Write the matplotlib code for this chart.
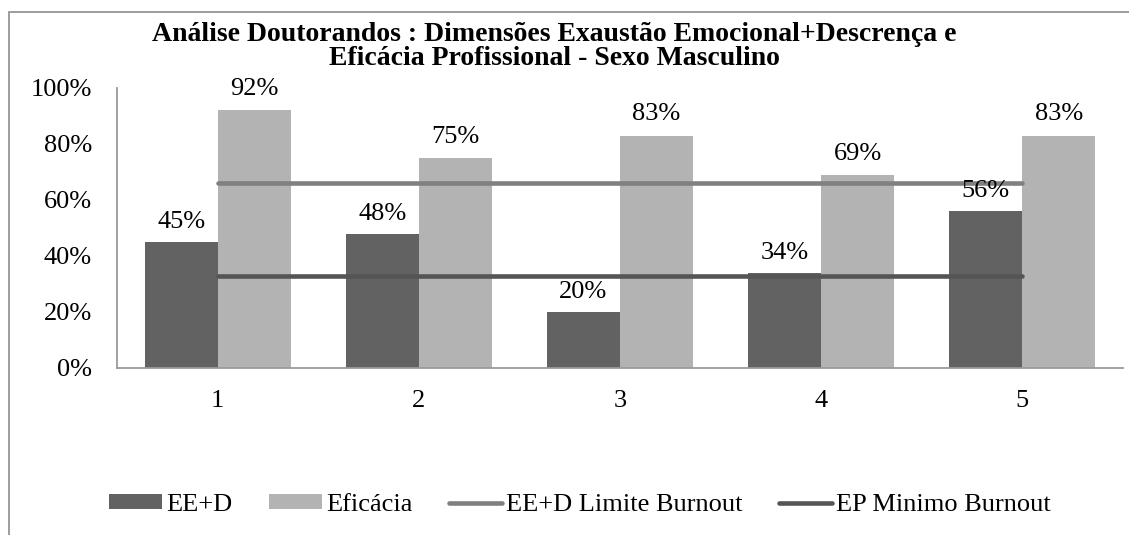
import numpy as np
import matplotlib.pyplot as plt
import matplotlib.patches as mpatches

# chart data
categories = ["1", "2", "3", "4", "5"]
ee_d = [45, 48, 20, 34, 56]
eficacia = [92, 75, 83, 69, 83]
ee_d_limite = [66, 66, 66, 66, 66]
ep_minimo = [33, 33, 33, 33, 33]
y_ticks = [0, 20, 40, 60, 80, 100]

title_l1 = "Análise Doutorandos : Dimensões Exaustão Emocional+Descrença e"
title_l2 = "Eficácia Profissional - Sexo Masculino"

dark = "#626262"
light = "#b3b3b3"
line_lim = "#808080"
line_min = "#555555"
axis_col = "#9a9a9a"

plt.rcParams['font.family'] = ['Liberation Serif', 'DejaVu Serif']

W, H = 1129, 535
fig = plt.figure(figsize=(W / 100, H / 100), dpi=100)
ax = fig.add_axes([117 / W, 1 - 368 / H, (1123 - 117) / W, (368 - 88) / H])

x = np.arange(len(categories))
bw = 0.363

b1 = ax.bar(x - bw / 2, ee_d, bw, color=dark, label="EE+D")
b2 = ax.bar(x + bw / 2, eficacia, bw, color=light, label="Eficácia")
l1, = ax.plot(x, ee_d_limite, color=line_lim, lw=3.3, solid_capstyle='round',
              label="EE+D Limite Burnout")
l2, = ax.plot(x, ep_minimo, color=line_min, lw=3.3, solid_capstyle='round',
              label="EP Minimo Burnout")

for xi, v in zip(x, ee_d):
    ax.annotate("%d%%" % v, (xi - bw / 2, v), xytext=(0, 10), textcoords='offset points',
                ha='center', va='baseline', fontsize=19)
for xi, v in zip(x, eficacia):
    ax.annotate("%d%%" % v, (xi + bw / 2, v), xytext=(0, 11), textcoords='offset points',
                ha='center', va='baseline', fontsize=19)

ax.set_xlim(-0.5, len(categories) - 0.5)
ax.set_ylim(0, 100)
ax.set_yticks(y_ticks)
ax.set_yticklabels(["%d%%" % t for t in y_ticks])
ax.set_xticks(x)
ax.set_xticklabels(categories)
ax.tick_params(axis='y', length=0, pad=18, labelsize=19)
ax.tick_params(axis='x', length=0, pad=16, labelsize=19)

for s in ['top', 'right']:
    ax.spines[s].set_visible(False)
for s in ['left', 'bottom']:
    ax.spines[s].set_color(axis_col)
    ax.spines[s].set_linewidth(1.3)

# title in two lines
fig.text(554 / W, 1 - 41 / H, title_l1, ha='center', va='baseline',
         fontsize=20, fontweight='bold')
fig.text(554 / W, 1 - 65 / H, title_l2, ha='center', va='baseline',
         fontsize=20, fontweight='bold')

fig.legend(handles=[b1, b2, l1, l2], loc='center', bbox_to_anchor=(580 / W, 1 - 505 / H),
           ncol=4, frameon=False, fontsize=19, handlelength=2.0, handleheight=0.5,
           handletextpad=0.15, columnspacing=1.4)

# outer chart border (cut off at right and bottom)
border = mpatches.Rectangle((9 / W, -0.1), 1.2, 1 - 12 / H + 0.1, transform=fig.transFigure,
                            fill=False, edgecolor="#8c8c8c", lw=1.2)
fig.patches.append(border)

fig.savefig("out.png", dpi=100)
